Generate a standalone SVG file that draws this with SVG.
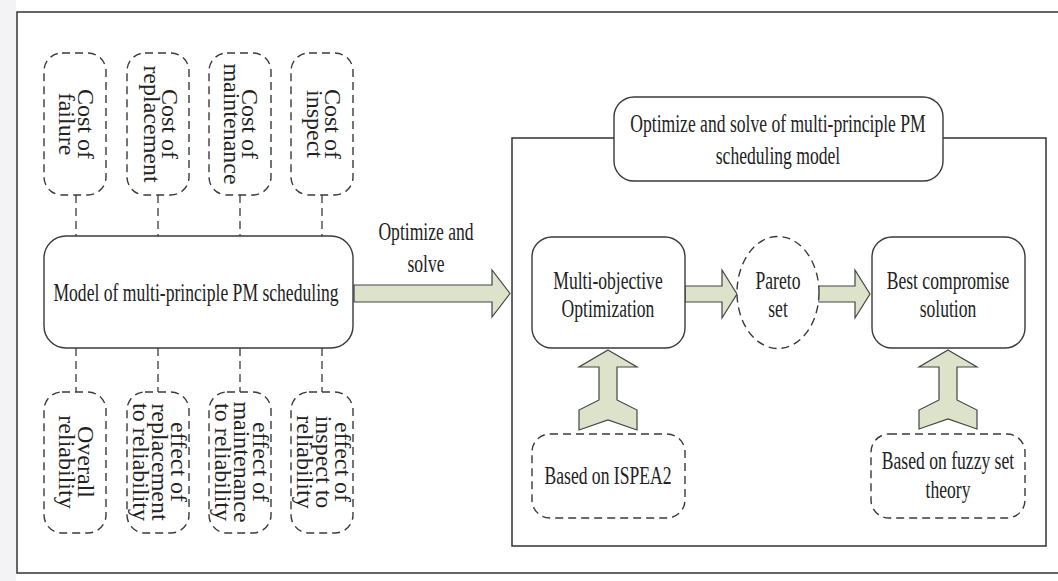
<svg xmlns="http://www.w3.org/2000/svg" width="1058" height="581" viewBox="0 0 1058 581">
<style>
.frame{fill:none;stroke:#333;stroke-width:1.5}
.solid{fill:#fff;stroke:#3a3a3a;stroke-width:1.4}
.dash{fill:#fff;stroke:#3a3a3a;stroke-width:1.4;stroke-dasharray:8 5}
.conn{fill:none;stroke:#3a3a3a;stroke-width:1.3;stroke-dasharray:8 5}
.fat{fill:#dde2cb;stroke:#444;stroke-width:1.2;stroke-linejoin:miter}
text{font-family:"Liberation Serif","Times New Roman",serif;fill:#222}
.h{font-size:25.5px;text-anchor:middle}
.v{font-size:24px;text-anchor:middle}
</style>
<rect x="0" y="0" width="1058" height="581" fill="#fff"/>
<rect x="0" y="0" width="16" height="581" fill="#f3f3f6"/>
<rect class="frame" x="17" y="12" width="1050" height="561" fill="#fff"/>

<g id="connectors">
<line class="conn" x1="76" y1="195" x2="76" y2="236"/>
<line class="conn" x1="158" y1="195" x2="158" y2="236"/>
<line class="conn" x1="240" y1="195" x2="240" y2="236"/>
<line class="conn" x1="322" y1="195" x2="322" y2="236"/>
<line class="conn" x1="76" y1="348" x2="76" y2="392"/>
<line class="conn" x1="158" y1="348" x2="158" y2="392"/>
<line class="conn" x1="240" y1="348" x2="240" y2="392"/>
<line class="conn" x1="322" y1="348" x2="322" y2="392"/>
<path class="fat" d="M354,285 L492,285 L492,270 L510,293.5 L492,317 L492,302 L354,302 Z"/>
<path class="fat" d="M685,286 L722,286 L722,270 L737,294 L722,318 L722,302 L685,302 Z"/>
<path class="fat" d="M818,286 L855,286 L855,270 L870,294 L855,318 L855,302 L818,302 Z"/>
<path class="fat" d="M608,350 L637,367 L617,367 L617,400 L637,410 L637,430 L608,420 L579,430 L579,410 L599,400 L599,367 L579,367 Z"/>
<path class="fat" d="M948,350 L977,367 L957,367 L957,400 L977,410 L977,429 L948,419 L919,429 L919,410 L939,400 L939,367 L919,367 Z"/>
</g>

<g id="inner-frame">
<rect class="frame" x="512" y="138" width="534" height="408"/>
</g>

<g id="n-cost-failure">
<rect class="dash" x="44" y="53" width="62" height="142" rx="18"/>
<text class="v" transform="translate(78,124) rotate(90)"><tspan x="0" y="0">Cost of</tspan><tspan x="0" dy="19">failure</tspan></text>
</g>
<g id="n-cost-replacement">
<rect class="dash" x="127" y="53" width="62" height="142" rx="18"/>
<text class="v" transform="translate(162,124) rotate(90)"><tspan x="0" y="0">Cost of</tspan><tspan x="0" dy="18">replacement</tspan></text>
</g>
<g id="n-cost-maintenance">
<rect class="dash" x="209" y="53" width="62" height="142" rx="18"/>
<text class="v" transform="translate(242,124) rotate(90)"><tspan x="0" y="0">Cost of</tspan><tspan x="0" dy="18">maintenance</tspan></text>
</g>
<g id="n-cost-inspect">
<rect class="dash" x="291" y="53" width="62" height="142" rx="18"/>
<text class="v" transform="translate(325,124) rotate(90)"><tspan x="0" y="0">Cost of</tspan><tspan x="0" dy="18">inspect</tspan></text>
</g>

<g id="n-model">
<rect class="solid" x="44" y="236" width="309" height="112" rx="22"/>
<text class="h" transform="translate(196,301) scale(0.69,1)">Model of multi-principle PM scheduling</text>
</g>

<g id="n-overall-reliability">
<rect class="dash" x="44" y="392" width="62" height="141" rx="18"/>
<text class="v" transform="translate(78,462) rotate(90)"><tspan x="0" y="0">Overall</tspan><tspan x="0" dy="19">reliability</tspan></text>
</g>
<g id="n-effect-replacement">
<rect class="dash" x="127" y="392" width="62" height="141" rx="18"/>
<text class="v" transform="translate(171,462) rotate(90)"><tspan x="0" y="0">effect of</tspan><tspan x="0" dy="19">replacement</tspan><tspan x="0" dy="19">to reliability</tspan></text>
</g>
<g id="n-effect-maintenance">
<rect class="dash" x="209" y="392" width="62" height="141" rx="18"/>
<text class="v" transform="translate(253,462) rotate(90)"><tspan x="0" y="0">effect of</tspan><tspan x="0" dy="19">maintenance</tspan><tspan x="0" dy="19">to reliability</tspan></text>
</g>
<g id="n-effect-inspect">
<rect class="dash" x="291" y="392" width="62" height="141" rx="18"/>
<text class="v" transform="translate(335,462) rotate(90)"><tspan x="0" y="0">effect of</tspan><tspan x="0" dy="19">inspect to</tspan><tspan x="0" dy="19">reliability</tspan></text>
</g>

<g id="label-optimize">
<text class="h" transform="translate(426,240) scale(0.69,1)"><tspan x="0" y="0">Optimize and</tspan><tspan x="0" dy="32">solve</tspan></text>
</g>

<g id="n-title">
<rect class="solid" x="614" y="97" width="329" height="84" rx="20"/>
<text class="h" transform="translate(778,132) scale(0.69,1)"><tspan x="0" y="0">Optimize and solve of multi-principle PM</tspan><tspan x="0" dy="32">scheduling model</tspan></text>
</g>

<g id="n-multi">
<rect class="solid" x="532" y="237" width="153" height="111" rx="20"/>
<text class="h" transform="translate(608,289) scale(0.69,1)"><tspan x="0" y="0">Multi-objective</tspan><tspan x="0" dy="28">Optimization</tspan></text>
</g>

<g id="n-pareto">
<ellipse class="dash" cx="778" cy="292.5" rx="41" ry="56"/>
<text class="h" transform="translate(778,289) scale(0.69,1)"><tspan x="0" y="0">Pareto</tspan><tspan x="0" dy="28">set</tspan></text>
</g>

<g id="n-best">
<rect class="solid" x="872" y="237" width="153" height="111" rx="20"/>
<text class="h" transform="translate(948,289) scale(0.69,1)"><tspan x="0" y="0">Best compromise</tspan><tspan x="0" dy="28">solution</tspan></text>
</g>

<g id="n-ispea2">
<rect class="dash" x="532" y="434" width="153" height="84" rx="18"/>
<text class="h" transform="translate(608,484) scale(0.69,1)">Based on ISPEA2</text>
</g>

<g id="n-fuzzy">
<rect class="dash" x="871" y="434" width="154" height="84" rx="18"/>
<text class="h" transform="translate(948,469) scale(0.69,1)"><tspan x="0" y="0">Based on fuzzy set</tspan><tspan x="0" dy="29">theory</tspan></text>
</g>
</svg>
